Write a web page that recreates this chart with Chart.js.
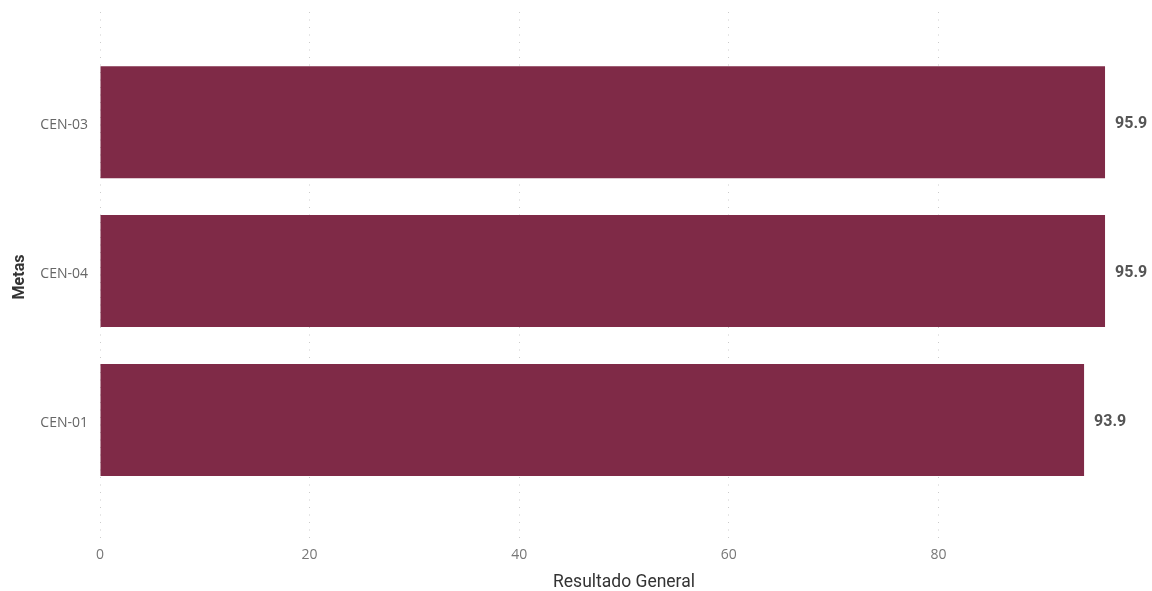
<!DOCTYPE html>
<html>
<head>
<meta charset="utf-8">
<script src="https://cdn.jsdelivr.net/npm/chart.js@4"></script>
<style>
  html, body { margin: 0; padding: 0; background: #fff; }
  #wrap { width: 1152px; height: 591px; }
</style>
</head>
<body>
<div id="wrap"><canvas id="metasChart"></canvas></div>
<script>
const metas = ['CEN-03', 'CEN-04', 'CEN-01'];
const resultados = [95.9, 95.9, 93.9];
const xTicks = [0, 20, 40, 60, 80];

const barColor = '#7F2A47';

// value labels just right of each bar end
const valueLabels = {
  id: 'valueLabels',
  afterDatasetsDraw(chart) {
    const ctx = chart.ctx;
    const meta = chart.getDatasetMeta(0);
    ctx.save();
    ctx.font = 'bold 16px Roboto, "DejaVu Sans Condensed", sans-serif';
    ctx.fillStyle = '#555';
    ctx.textAlign = 'left';
    ctx.textBaseline = 'middle';
    meta.data.forEach((bar, i) => {
      ctx.fillText(resultados[i].toFixed(1), bar.x + 10, bar.y + 2);
    });
    ctx.restore();
  }
};

function initChart() {
  const ctx = document.getElementById('metasChart');

  new Chart(ctx, {
    type: 'bar',
    data: {
      datasets: [{
        label: 'Resultado General',
        data: resultados.map((v, i) => ({ x: v, y: i })),
        backgroundColor: barColor,
        borderWidth: 0,
        barPercentage: 1,
        categoryPercentage: 0.752
      }]
    },
    options: {
      indexAxis: 'y',
      responsive: true,
      maintainAspectRatio: false,
      animation: false,
      layout: { padding: { top: 12, right: 4, bottom: 0, left: 0 } },
      plugins: {
        legend: { display: false },
        tooltip: { enabled: false }
      },
      scales: {
        x: {
          type: 'linear',
          min: 0,
          max: 100,
          afterBuildTicks: s => { s.ticks = xTicks.map(v => ({ value: v })); },
          afterFit: s => { s.height = 49; },
          grid: {
            color: '#cccccc',
            lineWidth: 1,
            drawTicks: false
          },
          border: { display: false, dash: [1, 6.5] },
          ticks: {
            padding: 5,
            color: '#777',
            font: { family: '"Open Sans", sans-serif', size: 14 }
          },
          title: {
            display: true,
            text: 'Resultado General',
            color: '#333',
            padding: { top: 0, bottom: -2 },
            font: { family: 'Roboto, sans-serif', size: 17.5 }
          }
        },
        y: {
          type: 'linear',
          reverse: true,
          offset: false,
          min: -0.74,
          max: 2.82,
          afterBuildTicks: s => { s.ticks = metas.map((m, i) => ({ value: i })); },
          afterFit: s => { s.width = 100; s.paddingTop = 0; s.paddingBottom = 0; },
          border: { display: false },
          grid: { display: false },
          ticks: {
            padding: 4,
            labelOffset: 3,
            color: '#666',
            font: { family: '"Open Sans", sans-serif', size: 14 },
            callback: v => metas[v]
          },
          title: {
            display: true,
            text: 'Metas',
            color: '#333',
            padding: { top: 10, bottom: 0 },
            font: { family: 'Roboto, sans-serif', size: 16, weight: 'bold' }
          }
        }
      }
    },
    plugins: [valueLabels]
  });
}

window.onload = initChart;
</script>
</body>
</html>
